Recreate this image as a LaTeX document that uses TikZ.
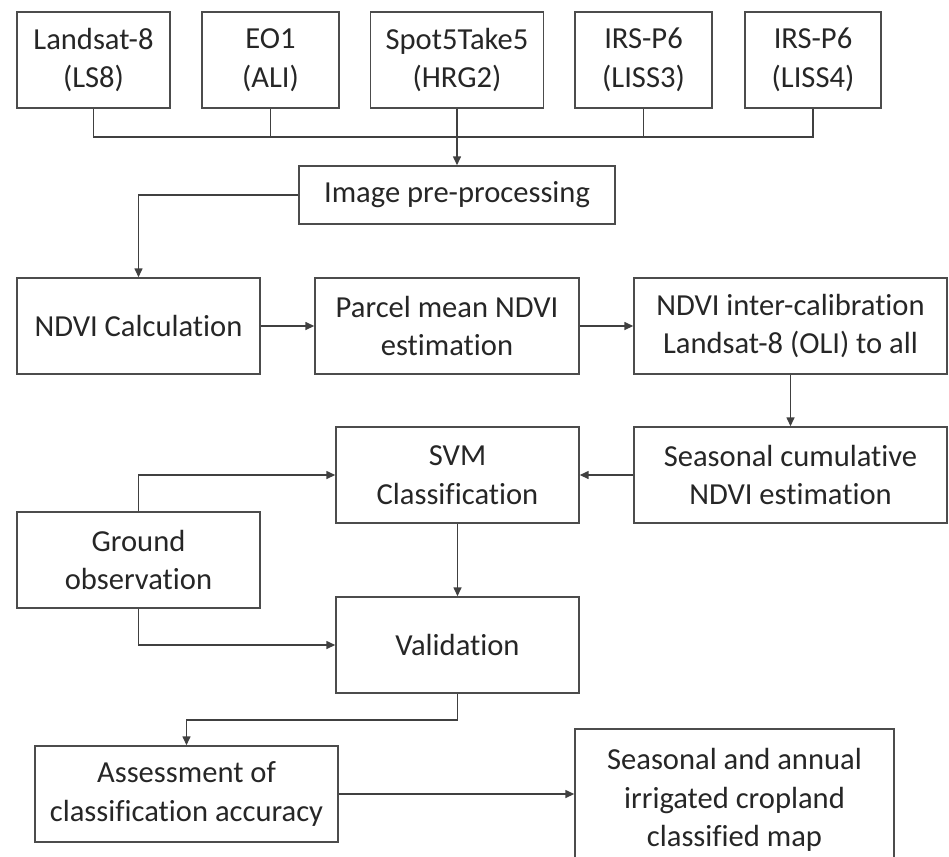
\documentclass[tikz,border=0pt]{standalone}
\usepackage{fontspec}
\setmainfont{Carlito}[RawFeature=-liga]
\usepackage{tikz}
\usetikzlibrary{arrows.meta}

\begin{document}
\begin{tikzpicture}[x=0.02cm, y=-0.02cm,
    >={Triangle[length=0.18cm,width=0.16cm]},
    proc/.style={draw=black!70, line width=0.85pt, minimum height=1.92cm, inner sep=0pt,
      align=center, text=black!85, font=\fontsize{17.4}{22}\selectfont},
    link/.style={draw=black!75, line width=0.85pt}]
  \useasboundingbox (0,0) rectangle (949,856);
  % sensors
  \node[proc, minimum width=3.06cm] (LS8) at (93.5,60) {Landsat-8\\(LS8)};
  \node[proc, minimum width=2.74cm] (EO1) at (270.5,60) {EO1\\(ALI)};
  \node[proc, minimum width=3.46cm] (HRG2) at (457,60) {Spot5Take5\\(HRG2)};
  \node[proc, minimum width=2.74cm] (LISS3) at (643.5,60) {IRS-P6\\(LISS3)};
  \node[proc, minimum width=2.72cm] (LISS4) at (813,60) {IRS-P6\\(LISS4)};
  \coordinate (J) at (457,137);
  \node[proc, minimum width=6.32cm, minimum height=1.16cm] (Pre) at (457,195) {Image pre-processing};
  % NDVI chain
  \node[proc, minimum width=4.86cm] (NDVI) at (138.5,326) {NDVI Calculation};
  \node[proc, minimum width=5.28cm] (Parcel) at (447,326) {Parcel mean NDVI\\estimation};
  \node[proc, minimum width=6.26cm] (Cal) at (790.5,326) {NDVI inter-calibration\\Landsat-8 (OLI) to all};
  \node[proc, minimum width=6.26cm] (Cum) at (790.5,475) {Seasonal cumulative\\NDVI estimation};
  \node[proc, minimum width=4.86cm] (SVM) at (457.5,475) {SVM\\Classification};
  \node[proc, minimum width=4.86cm] (Ground) at (138.5,560) {Ground\\observation};
  \node[proc, minimum width=4.86cm] (Val) at (457.5,645) {Validation};
  \node[proc, minimum width=6.06cm] (Acc) at (186.5,794) {Assessment of\\classification accuracy};
  \node[proc, minimum width=6.38cm, minimum height=2.84cm] (Map) at (734.5,800) {Seasonal and annual\\irrigated cropland\\classified map};

  % connectors
  \draw[link] (LS8.south) |- (J) -| (LISS4.south);
  \draw[link] (EO1.south) -- (EO1.south |- J);
  \draw[link] (LISS3.south) -- (LISS3.south |- J);
  \draw[link,->] (HRG2.south) -- (Pre.north);
  \draw[link,->] (Pre.west) -| (NDVI.north);
  \draw[link,->] (NDVI.east) -- (Parcel.west);
  \draw[link,->] (Parcel.east) -- (Cal.west);
  \draw[link,->] (Cal.south) -- (Cum.north);
  \draw[link,->] (Cum.west) -- (SVM.east);
  \draw[link,->] (Ground.north) |- (SVM.west);
  \draw[link,->] (Ground.south) |- (Val.west);
  \draw[link,->] (SVM.south) -- (Val.north);
  \draw[link,->] (Val.south) -- ++(0,26) -| (Acc.north);
  \draw[link,->] (Acc.east) -- (Acc.east -| Map.west);
\end{tikzpicture}
\end{document}
